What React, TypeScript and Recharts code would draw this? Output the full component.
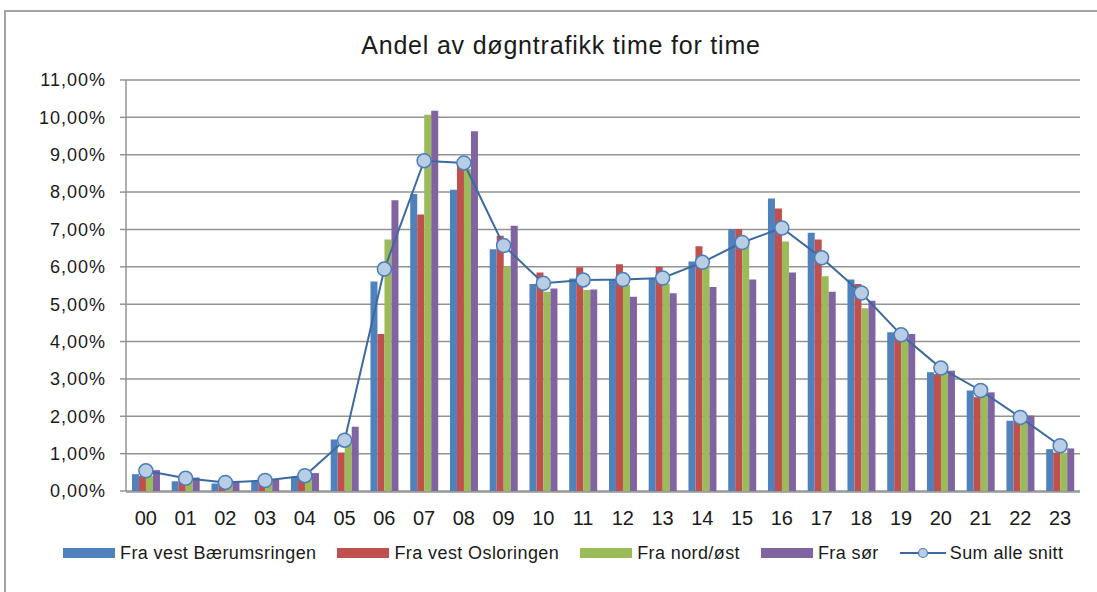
import React from 'react'
import { ComposedChart, Bar, Line, XAxis, YAxis, CartesianGrid } from 'recharts'

const HOURS = ['00', '01', '02', '03', '04', '05', '06', '07', '08', '09', '10', '11', '12', '13', '14', '15', '16', '17', '18', '19', '20', '21', '22', '23']

// andel av døgntrafikk i prosent, per time
const VEST_BAERUM = [0.45, 0.26, 0.2, 0.27, 0.38, 1.38, 5.61, 7.95, 8.06, 6.47, 5.54, 5.69, 5.66, 5.7, 6.14, 7.01, 7.83, 6.91, 5.66, 4.25, 3.18, 2.69, 1.88, 1.12]
const VEST_OSLO = [0.4, 0.3, 0.23, 0.25, 0.35, 1.03, 4.2, 7.4, 8.71, 6.83, 5.85, 5.99, 6.07, 6.0, 6.55, 7.01, 7.56, 6.73, 5.54, 4.16, 3.13, 2.51, 1.97, 1.03]
const NORD_OST = [0.4, 0.3, 0.22, 0.25, 0.4, 1.3, 6.73, 10.07, 8.62, 6.01, 5.33, 5.38, 5.52, 5.55, 6.03, 6.57, 6.68, 5.75, 4.89, 4.07, 3.22, 2.82, 2.02, 1.03]
const SOR = [0.56, 0.36, 0.27, 0.3, 0.48, 1.72, 7.78, 10.18, 9.63, 7.1, 5.42, 5.39, 5.2, 5.29, 5.46, 5.66, 5.85, 5.33, 5.09, 4.2, 3.22, 2.64, 2.02, 1.14]
const SUM_SNITT = [0.54, 0.34, 0.23, 0.28, 0.41, 1.36, 5.94, 8.84, 8.78, 6.57, 5.56, 5.65, 5.66, 5.7, 6.12, 6.65, 7.04, 6.24, 5.3, 4.18, 3.29, 2.69, 1.97, 1.21]

const Y_TICKS = [0, 1, 2, 3, 4, 5, 6, 7, 8, 9, 10, 11]
const EDGE_TICKS = Array.from({ length: 25 }, (_, i) => i)

const SERIES = [
  { key: 'vestBaerum', name: 'Fra vest Bærumsringen', color: '#4F81BD' },
  { key: 'vestOslo', name: 'Fra vest Osloringen', color: '#C0504D' },
  { key: 'nordOst', name: 'Fra nord/øst', color: '#9BBB59' },
  { key: 'sor', name: 'Fra sør', color: '#8064A2' },
]

const data = HOURS.map((hour, i) => ({
  hour,
  vestBaerum: VEST_BAERUM[i],
  vestOslo: VEST_OSLO[i],
  nordOst: NORD_OST[i],
  sor: SOR[i],
  sum: SUM_SNITT[i],
}))

const GRID = '#939393'
const TEXT = '#1a1a1a'
const FONT = '"Liberation Sans", Arial, sans-serif'

const fmtPct = (v: number) => v.toFixed(2).replace('.', ',') + '%'

function ChartLegend() {
  return (
    <div style={{ position: 'absolute', left: 63, top: 544, display: 'flex', alignItems: 'center', fontFamily: FONT, fontSize: 18, letterSpacing: 0.4, color: TEXT, lineHeight: '18px', whiteSpace: 'nowrap' }}>
      {SERIES.map(s => (
        <div key={s.key} style={{ display: 'flex', alignItems: 'center', marginRight: 21 }}>
          <span style={{ width: 52, height: 10, background: s.color, marginRight: 5, display: 'inline-block' }} />
          <span>{s.name}</span>
        </div>
      ))}
      <div style={{ display: 'flex', alignItems: 'center' }}>
        <svg width={46} height={14} style={{ marginRight: 4 }}>
          <line x1={0} y1={7} x2={46} y2={7} stroke="#3B6AA0" strokeWidth={2} />
          <circle cx={23} cy={7} r={4.5} fill="#B9CDE5" stroke="#4A7EBB" strokeWidth={1.2} />
        </svg>
        <span>Sum alle snitt</span>
      </div>
    </div>
  )
}

export default function App() {
  return (
    <div style={{ position: 'absolute', left: 0, top: 0, width: 1097, height: 592, overflow: 'hidden', background: '#fff' }}>
      <div style={{ position: 'absolute', left: 4, top: 10, width: 1300, height: 800, border: '2px solid #a3a3a3' }} />
      <div style={{ position: 'absolute', left: 0, width: 1122, top: 33, textAlign: 'center', fontFamily: FONT, fontSize: 25, letterSpacing: 0.8, lineHeight: '25px', color: TEXT }}>
        Andel av døgntrafikk time for time
      </div>
      <div style={{ position: 'absolute', left: 0, top: 0 }}>
        <ComposedChart width={1097} height={592} data={data} margin={{ top: 80, right: 17, bottom: 99, left: 0 }} barCategoryGap="15%" barGap={0}>
          <CartesianGrid horizontal vertical={false} stroke={GRID} strokeWidth={1.5} />
          <XAxis xAxisId="edge" type="number" domain={[0, 24]} ticks={EDGE_TICKS} tick={false} tickSize={6} height={1} axisLine={{ stroke: GRID, strokeWidth: 1.5 }} tickLine={{ stroke: GRID, strokeWidth: 1.5 }} allowDataOverflow />
          <XAxis dataKey="hour" height={1} axisLine={false} tickLine={false} tickSize={0} tickMargin={20} interval={0} tick={{ fontSize: 20, fill: TEXT, fontFamily: FONT }} />
          <YAxis width={126} domain={[0, 11]} ticks={Y_TICKS} tickFormatter={fmtPct} tickSize={6} tickMargin={14} axisLine={{ stroke: GRID, strokeWidth: 1.5 }} tickLine={{ stroke: GRID, strokeWidth: 1.5 }} tick={{ fontSize: 18, fill: TEXT, fontFamily: FONT, letterSpacing: 1 }} />
          {SERIES.map(s => (
            <Bar key={s.key} dataKey={s.key} name={s.name} fill={s.color} isAnimationActive={false} />
          ))}
          <Line dataKey="sum" name="Sum alle snitt" stroke="#3B6AA0" strokeWidth={2} dot={{ r: 7, fill: '#B9CDE5', stroke: '#4A7EBB', strokeWidth: 1.5 }} isAnimationActive={false} />
        </ComposedChart>
      </div>
      <ChartLegend />
    </div>
  )
}
